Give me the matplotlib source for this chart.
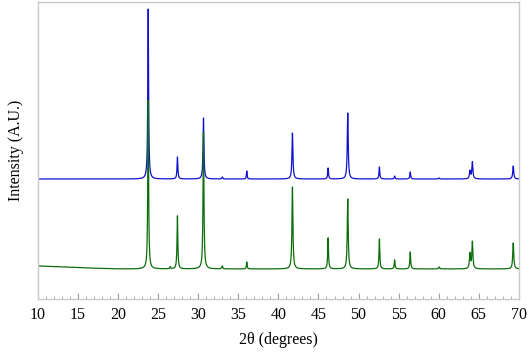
import numpy as np
import matplotlib
matplotlib.use("Agg")
import matplotlib.pyplot as plt
from matplotlib.ticker import MultipleLocator

# Peak positions (2theta, degrees)
peak_pos = [23.75, 26.5, 27.4, 30.65, 33.0, 36.05, 41.75, 46.2, 48.65, 52.6, 54.5, 56.45, 60.05, 63.9, 64.2, 69.3]
# Peak heights above baseline (arbitrary units)
blue_heights = [170, 0, 22, 61, 2, 8, 46, 11, 66, 12, 3, 7, 1, 8, 17, 13]
green_heights = [169, 2, 53, 137, 3, 7, 82, 31, 70, 30, 9, 17, 2, 15, 27, 26]
peak_fwhm = [0.12, 0.1, 0.12, 0.13, 0.12, 0.1, 0.14, 0.12, 0.14, 0.12, 0.12, 0.12, 0.15, 0.15, 0.15, 0.15]

blue_offset = 120
green_bg_x = [10, 13, 16, 20, 70]
green_bg_y = [33, 32, 31, 30, 30]

x_ticks = [10, 15, 20, 25, 30, 35, 40, 45, 50, 55, 60, 65, 70]

def pattern(x, heights):
    y = np.zeros_like(x)
    for p, h, w in zip(peak_pos, heights, peak_fwhm):
        g = (w / 2) ** 2
        y += h * g / ((x - p) ** 2 + g)
    return y

x = np.linspace(10, 70, 6001)
green = pattern(x, green_heights) + np.interp(x, green_bg_x, green_bg_y)
blue = pattern(x, blue_heights) + blue_offset

plt.rcParams['font.family'] = ['Liberation Serif', 'DejaVu Serif']
fig = plt.figure(figsize=(5.29, 3.55), dpi=100)
ax = fig.add_axes([0.0718, 0.158, 0.909, 0.836])
ax.plot(x, blue, color='#1010d0', lw=0.9)
ax.plot(x, green, color='#0b6e0b', lw=0.9)
ax.set_xlim(10, 70)
ax.set_ylim(0, 297)
ax.set_xticks(x_ticks)
ax.xaxis.set_minor_locator(MultipleLocator(1))
ax.set_yticks([])
for s in ax.spines.values():
    s.set_color('#c8c8c8')
    s.set_linewidth(1.0)
ax.tick_params(axis='x', which='major', direction='in', length=4, color='#a0a0a0', labelsize=11.5, pad=6)
ax.tick_params(axis='x', which='minor', direction='in', length=2.5, color='#a0a0a0')
ax.set_xlabel('2θ (degrees)', fontsize=11.5, labelpad=6)
ax.set_ylabel('Intensity (A.U.)', fontsize=11.5, labelpad=10)
fig.savefig('out.png', dpi=100)
